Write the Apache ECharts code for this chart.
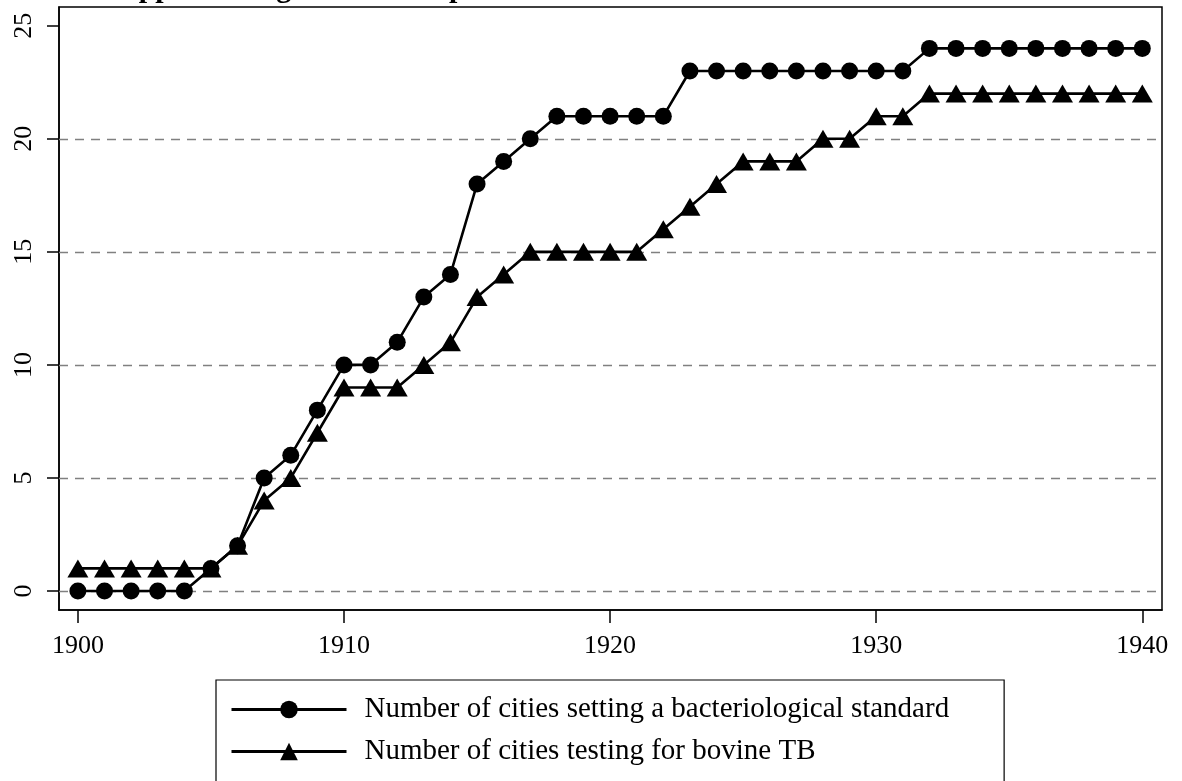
<!DOCTYPE html>
<html lang="en">
<head>
<meta charset="UTF-8" />
<title>Milk standards</title>
<script src="https://cdn.jsdelivr.net/npm/echarts@6/dist/echarts.min.js"></script>
<style type="text/css">
html, body { margin:0; padding:0; background:#fff; }
#main { width:1182px; height:781px; }
</style>
</head>
<body>
<div id="main"></div>
<script type="text/javascript">
// years and the two series
var years = [1900,1901,1902,1903,1904,1905,1906,1907,1908,1909,1910,1911,1912,1913,1914,1915,1916,1917,1918,1919,1920,
             1921,1922,1923,1924,1925,1926,1927,1928,1929,1930,1931,1932,1933,1934,1935,1936,1937,1938,1939,1940];
var bactStandard = [0,0,0,0,0,1,2,5,6,8,10,10,11,13,14,18,19,20,21,21,21,
                    21,21,23,23,23,23,23,23,23,23,23,24,24,24,24,24,24,24,24,24];
var bovineTB = [1,1,1,1,1,1,2,4,5,7,9,9,9,10,11,13,14,15,15,15,15,
                15,16,17,18,19,19,19,20,20,21,21,22,22,22,22,22,22,22,22,22];
var xTicks = [1900,1910,1920,1930,1940];
var yTicks = [0,5,10,15,20,25];
var gridLines = [0,5,10,15,20];
var seriesNames = ['Number of cities setting a bacteriological standard','Number of cities testing for bovine TB'];

var serif = '"Liberation Serif", "DejaVu Serif", serif';

function pairs(vals){
	var out = [];
	for(var i=0;i<years.length;i++){
		out.push([years[i], vals[i]]);
	}
	return out;
}

var myChart = echarts.init(document.getElementById('main'));
myChart.setOption({
	animation: false,
	title: {
		text: 'Appendix Figure A2: Adoption of Milk Standards',
		left: 112,
		top: -31,
		textStyle: { fontFamily: serif, fontSize: 30, fontWeight: 'bold', color: '#000' }
	},
	grid: {
		left: 59, right: 20, top: 7, bottom: 171,
		show: true, borderColor: '#000', borderWidth: 1.5, backgroundColor: '#fff'
	},
	legend: {
		orient: 'vertical',
		left: 216,
		top: 680,
		height: 200,
		padding: [15, 55, 30, 14],
		itemWidth: 115,
		itemHeight: 22,
		itemGap: 13,
		borderColor: '#000',
		borderWidth: 1.2,
		lineStyle: { width: 3 },
		textStyle: { fontFamily: serif, fontSize: 29, color: '#000', padding: [0,0,0,13] },
		data: seriesNames
	},
	xAxis: {
		type: 'value',
		min: 1899.29,
		max: 1940.74,
		axisLine: { show: true, onZero: false, lineStyle: { color: '#000', width: 1.5 } },
		axisTick: { show: true, length: 13, customValues: xTicks, lineStyle: { color: '#000', width: 1.5 } },
		axisLabel: {
			customValues: xTicks, margin: 23, fontFamily: serif, fontSize: 26, color: '#000',
			formatter: function(v){ return String(v); }
		},
		splitLine: { show: false }
	},
	yAxis: {
		type: 'value',
		min: -0.84,
		max: 25.83,
		axisLine: { show: true, onZero: false, lineStyle: { color: '#000', width: 1.5 } },
		axisTick: { show: true, length: 12, customValues: yTicks, lineStyle: { color: '#000', width: 1.5 } },
		axisLabel: { customValues: yTicks, rotate: 90, margin: 22, fontFamily: serif, fontSize: 26, color: '#000' },
		splitLine: { show: false }
	},
	series: [
		{
			name: seriesNames[0],
			type: 'line',
			data: pairs(bactStandard),
			symbol: 'circle',
			symbolSize: 17,
			z: 3,
			lineStyle: { color: '#000', width: 2.6 },
			itemStyle: { color: '#000' },
			markLine: {
				silent: true,
				symbol: 'none',
				label: { show: false },
				lineStyle: { color: '#808080', type: [9, 7], width: 1.3 },
				data: gridLines.map(function(v){ return { yAxis: v }; }),
				z: 1
			}
		},
		{
			name: seriesNames[1],
			type: 'line',
			data: pairs(bovineTB),
			symbol: 'triangle',
			symbolSize: [21, 18],
			z: 2,
			lineStyle: { color: '#000', width: 2.6 },
			itemStyle: { color: '#000' }
		}
	]
});
</script>
</body>
</html>
